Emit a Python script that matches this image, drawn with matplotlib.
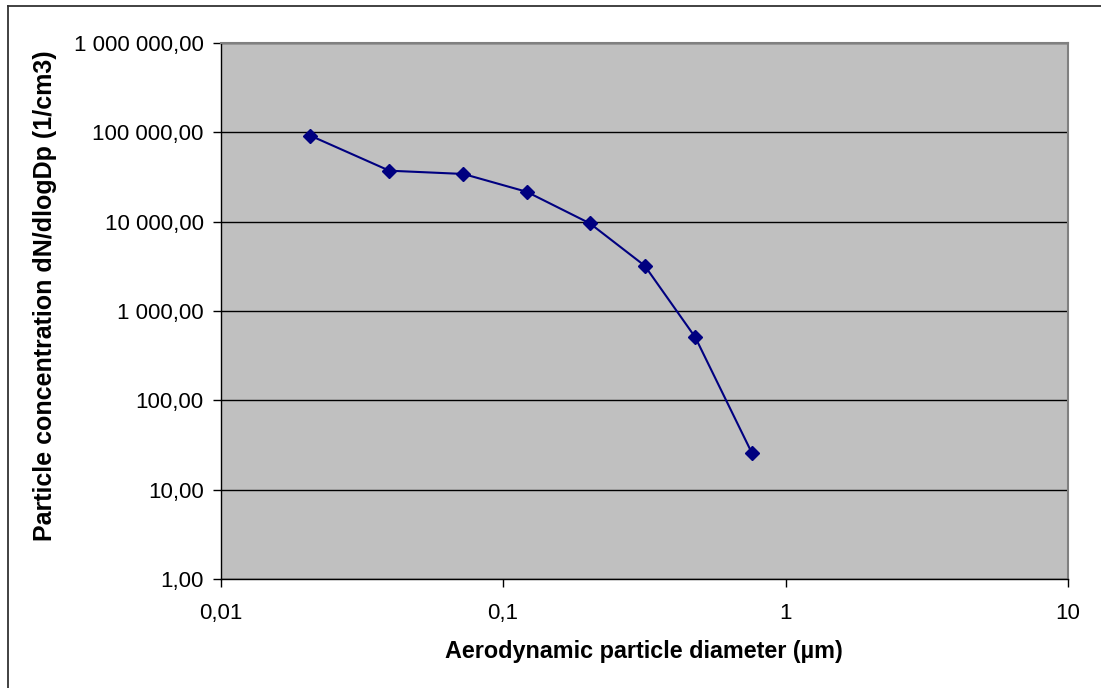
import numpy as np
import matplotlib
matplotlib.use("Agg")
import matplotlib.pyplot as plt
from matplotlib.ticker import FixedLocator, FuncFormatter, NullLocator

# Aerodynamic diameter (um) and concentration dN/dlogDp (1/cm3)
diametro = [0.0208, 0.0396, 0.0724, 0.1213, 0.203, 0.3175, 0.4795, 0.761]
concentracao = [91800, 37200, 34200, 21600, 9570, 3210, 507, 25.6]

y_ticks = [1, 10, 100, 1000, 10000, 100000, 1000000]
x_ticks = [0.01, 0.1, 1, 10]


def fmt_y(v, pos):
    # formato europeu: espaco nos milhares, virgula decimal
    s = f"{v:,.2f}"
    return s.replace(",", " ").replace(".", ",")


def fmt_x(v, pos):
    s = f"{v:g}"
    return s.replace(".", ",")


plt.rcParams['font.family'] = ['Liberation Sans', 'DejaVu Sans']

fig = plt.figure(figsize=(11.01, 6.88), dpi=100)
W, H = 1101, 688
ax = fig.add_axes([220.5 / W, 1 - 579 / H, (1068 - 220.5) / W, (579 - 43) / H])

ax.set_facecolor('#C0C0C0')
ax.set_xscale('log')
ax.set_yscale('log')
ax.set_xlim(0.01, 10)
ax.set_ylim(1, 1000000)

ax.yaxis.set_major_locator(FixedLocator(y_ticks))
ax.xaxis.set_major_locator(FixedLocator(x_ticks))
ax.yaxis.set_minor_locator(NullLocator())
ax.xaxis.set_minor_locator(NullLocator())
ax.yaxis.set_major_formatter(FuncFormatter(fmt_y))
ax.xaxis.set_major_formatter(FuncFormatter(fmt_x))

ax.grid(True, axis='y', color='black', linewidth=1.0)
ax.set_axisbelow(True)

ax.plot(diametro, concentracao, color='#000080', linewidth=1.5,
        marker='D', markersize=7.5, markerfacecolor='#000080',
        markeredgecolor='#000080', zorder=3)

for lado in ['top', 'right']:
    ax.spines[lado].set_color('#808080')
    ax.spines[lado].set_linewidth(1.5)
for lado in ['left', 'bottom']:
    ax.spines[lado].set_color('black')
    ax.spines[lado].set_linewidth(1.0)

ax.tick_params(axis='both', direction='out', length=6, width=1.0,
               color='black', labelsize=16)
ax.tick_params(axis='y', pad=6)
ax.tick_params(axis='x', pad=11)

ax.set_xlabel('Aerodynamic particle diameter (µm)', fontsize=16.8,
              fontweight='bold', labelpad=12)
ax.set_ylabel('Particle concentration dN/dlogDp (1/cm3)', fontsize=18,
              fontweight='bold')
ax.yaxis.set_label_coords((57 - 220.5) / 847.5, (579 - 296) / 536)

# moldura externa do grafico
fig.add_artist(plt.Line2D([8 / W, 8 / W], [0, 1 - 6 / H], color='#333333',
                          linewidth=1.3, transform=fig.transFigure))
fig.add_artist(plt.Line2D([8 / W, 1], [1 - 6 / H, 1 - 6 / H], color='#333333',
                          linewidth=1.3, transform=fig.transFigure))

fig.savefig('out.png', dpi=100)
